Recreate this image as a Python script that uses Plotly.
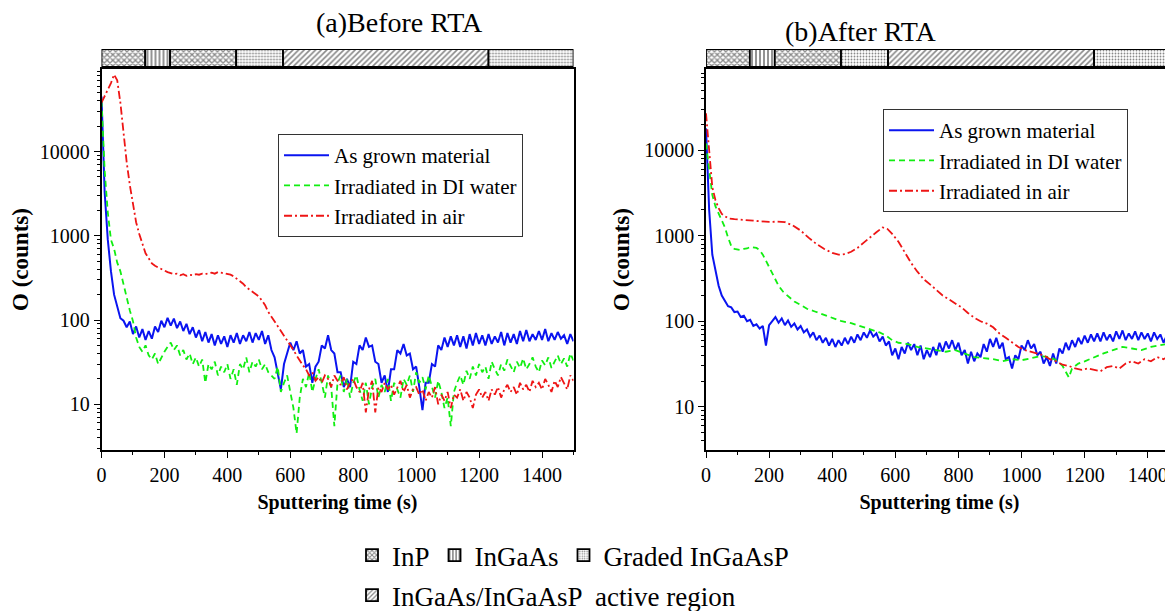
import plotly.graph_objects as go

# sputtering time grids (s)
time_a = list(range(0, 1501, 10))
time_b = list(range(0, 1481, 10))

# (a) Before RTA, O counts
asgrown_a = [45000, 3300, 900, 380, 200, 140, 105, 98, 82, 96,
             68, 84, 62, 78, 58, 74, 60, 84, 72, 98,
             82, 106, 86, 104, 80, 96, 74, 90, 68, 82,
             62, 76, 56, 72, 54, 68, 50, 66, 52, 64,
             48, 66, 54, 70, 52, 66, 56, 72, 54, 70,
             58, 74, 52, 66, 44, 36, 22, 15, 30, 40,
             54, 44, 56, 40, 44, 28, 30, 18, 28, 32,
             50, 46, 66, 44, 40, 24, 24, 16, 20, 16,
             32, 30, 50, 44, 62, 48, 50, 32, 30, 18,
             22, 14, 26, 26, 44, 40, 52, 38, 40, 26,
             28, 16, 8.5, 18, 18, 30, 28, 50, 44, 62,
             48, 64, 50, 66, 48, 64, 46, 68, 50, 70,
             52, 66, 50, 68, 52, 64, 54, 72, 50, 70,
             54, 68, 52, 74, 56, 76, 56, 68, 58, 74,
             58, 78, 56, 70, 58, 72, 60, 66, 52, 68,
             56]

diwater_a = [40000, 6000, 1900, 900, 700, 480, 380, 260, 180, 130,
             97, 62, 48, 42, 50, 38, 34, 40, 30, 36,
             42, 48, 54, 44, 50, 38, 44, 34, 40, 30,
             36, 28, 34, 18, 30, 26, 32, 22, 28, 24,
             30, 20, 26, 17, 30, 26, 36, 24, 32, 28,
             34, 26, 30, 24, 22, 20, 28, 14, 18, 22,
             14, 9, 4.5, 12, 20, 16, 24, 14, 20, 26,
             18, 12, 22, 16, 5.5, 18, 22, 14, 20, 12,
             18, 22, 15, 11, 18, 10, 16, 20, 12, 17,
             14, 20, 11, 18, 15, 12, 20, 17, 22, 14,
             24, 18, 21, 15, 22, 16, 12, 19, 14, 9,
             12, 5.5, 14, 18, 22, 17, 25, 20, 28, 22,
             30, 24, 28, 20, 32, 26, 22, 30, 25, 34,
             28, 24, 32, 27, 35, 26, 30, 36, 28, 24,
             33, 29, 36, 27, 32, 38, 30, 35, 28, 40,
             33]

air_a = [38000, 45000, 55000, 65000, 82000, 70000, 38000, 16000, 7500, 4000,
         2400, 1450, 1050, 780, 620, 540, 470, 440, 420, 400,
         380, 370, 360, 350, 355, 340, 350, 335, 345, 340,
         350, 345, 355, 350, 360, 365, 355, 370, 365, 360,
         350, 345, 330, 310, 290, 270, 245, 230, 215, 200,
         190, 170, 150, 125, 110, 95, 85, 75, 65, 58,
         50, 44, 38, 33, 29, 26, 22, 24, 19, 21,
         18, 22, 20, 16, 22, 19, 17, 21, 15, 18,
         20, 16, 14, 18, 8, 15, 19, 8, 16, 14,
         18, 15, 17, 13, 16, 19, 14, 17, 12, 15,
         16, 13, 15, 11, 14, 12, 16, 10, 13, 11,
         14, 9, 13, 12, 15, 11, 14, 12, 9, 13,
         15, 12, 14, 11, 15, 13, 16, 12, 15, 17,
         14, 16, 13, 18, 15, 17, 14, 19, 16, 18,
         15, 20, 17, 14, 19, 16, 21, 18, 15, 22,
         19]

# (b) After RTA
asgrown_b = [18000, 2000, 600, 380, 260, 200, 175, 150, 145, 128,
             130, 112, 116, 100, 104, 88, 92, 82, 88, 52,
             90, 100, 112, 96, 108, 90, 102, 86, 94, 80,
             88, 74, 80, 66, 74, 60, 68, 56, 64, 52,
             62, 50, 60, 52, 64, 54, 66, 56, 70, 60,
             74, 64, 78, 66, 72, 58, 66, 52, 58, 40,
             48, 36, 50, 42, 56, 46, 54, 40, 52, 36,
             46, 38, 50, 40, 56, 44, 58, 48, 60, 46,
             56, 40, 46, 32, 44, 34, 42, 38, 54, 44,
             62, 50, 64, 48, 56, 36, 38, 28, 40, 36,
             52, 46, 60, 48, 54, 40, 44, 32, 38, 30,
             42, 32, 48, 42, 56, 46, 60, 50, 64, 54,
             68, 56, 70, 58, 72, 58, 74, 60, 70, 58,
             76, 62, 78, 60, 72, 62, 76, 60, 74, 62,
             72, 58, 74, 62, 70, 56, 68, 58, 66]

diwater_b_t = [0, 10, 20, 30, 40, 50, 60, 70, 80, 90, 100, 110, 120, 130, 140,
               150, 160, 170, 180, 190, 200, 215, 230, 245, 260, 280, 300, 320,
               345, 370, 400, 430, 460, 490, 520, 550, 570, 590, 610, 640, 670,
               700, 730, 760, 790, 820, 850, 880, 910, 940, 970, 1000, 1030,
               1060, 1090, 1110, 1130, 1150, 1160, 1180, 1200, 1230, 1260, 1290,
               1320, 1350, 1380, 1410, 1440, 1470, 1480]
diwater_b = [12000, 5800, 3000, 2200, 1800, 1500, 1250, 950, 760, 700, 690, 680,
             700, 710, 740, 730, 720, 680, 600, 510, 430, 330, 260, 220, 195,
             170, 155, 140, 130, 120, 108, 100, 95, 88, 80, 74, 68, 60, 56, 54,
             50, 48, 46, 44, 46, 42, 38, 37, 36, 34, 36, 35, 37, 39, 38, 35,
             30, 22, 28, 32, 34, 38, 42, 46, 50, 48, 46, 50, 52, 55, 54]

air_b_t = [0, 10, 20, 30, 40, 50, 60, 70, 90, 110, 130, 150, 175, 200, 225,
           250, 275, 300, 325, 350, 375, 400, 420, 440, 460, 480, 500, 520,
           540, 560, 575, 590, 610, 630, 650, 670, 690, 710, 730, 750, 770,
           790, 810, 830, 850, 870, 890, 910, 930, 950, 970, 990, 1010, 1030,
           1050, 1070, 1090, 1110, 1130, 1150, 1170, 1190, 1210, 1230, 1250,
           1270, 1290, 1310, 1330, 1350, 1370, 1390, 1410, 1430, 1450, 1470,
           1480]
air_b = [27000, 9200, 3700, 2600, 2100, 1800, 1680, 1600, 1560, 1550, 1520,
         1500, 1470, 1450, 1460, 1440, 1320, 1150, 950, 800, 700, 630, 600,
         610, 650, 720, 830, 960, 1100, 1250, 1200, 1050, 850, 640, 480, 380,
         310, 270, 230, 200, 180, 160, 145, 125, 110, 100, 94, 85, 72, 64, 56,
         50, 46, 44, 42, 40, 36, 34, 31, 30, 28, 27, 28, 27, 26, 29, 30, 28,
         32, 34, 32, 36, 34, 38, 36, 40, 38]

# layer structure bar above each panel
layer_names = ["InP", "InGaAs", "InP", "Graded InGaAsP",
               "InGaAs/InGaAsP  active region", "Graded InGaAsP"]
layer_bounds = [0, 139, 218, 428, 577, 1230, 1500]
layer_pattern = {"InP": ("x", 4, 0.55), "InGaAs": ("|", 4, 0.45),
                 "Graded InGaAsP": (".", 3, 0.3),
                 "InGaAs/InGaAsP  active region": ("/", 4, 0.4)}

serif = "Liberation Serif"
blue, green, red = "#0a14f0", "#11ee11", "#ee1515"

fig = go.Figure()

panels = [
    ("x", "y", "legend", [(time_a, asgrown_a), (time_a, diwater_a), (time_a, air_a)]),
    ("x2", "y2", "legend4", [(time_b, asgrown_b), (diwater_b_t, diwater_b), (air_b_t, air_b)]),
]
names = ["As grown material", "Irradiated in DI water", "Irradiated in air"]
styles = [(blue, "solid", 2.0), (green, "6px,4px", 1.8), (red, "8px,3px,2px,3px", 1.8)]

for xa, ya, leg, series in panels:
    for (t, c), name, (col, dash, w) in zip(series, names, styles):
        fig.add_trace(go.Scatter(x=t, y=c, mode="lines", name=name,
                                 line=dict(color=col, dash=dash, width=w),
                                 xaxis=xa, yaxis=ya, legend=leg))

# bars on x3/y3 (panel a) and x4/y4 (panel b)
seen = set()
for xa, ya in [("x3", "y3"), ("x4", "y4")]:
    for i, name in enumerate(layer_names):
        start, end = layer_bounds[i], layer_bounds[i + 1]
        show = name not in seen
        seen.add(name)
        shape, size, sol = layer_pattern[name]
        fig.add_trace(go.Bar(
            x=[end - start], base=[start], y=[0], orientation="h", width=1,
            name=name, showlegend=show,
            legend="legend3" if "active" in name else "legend2",
            marker=dict(color="white", line=dict(color="black", width=1.8),
                        pattern=dict(shape=shape, fgcolor="#111", bgcolor="white",
                                     size=size, solidity=sol)),
            xaxis=xa, yaxis=ya, hoverinfo="skip"))

# the page body has an 8 px margin, so the figure is shifted by that
W, H = 1165, 603


def px(X):
    return (X - 8) / W


def py(Y):
    return 1 - (Y - 8) / H


dom_a = [px(101.5), px(573.5)]
dom_b = [px(706), 1.0]
dom_y = [py(450), py(69)]
dom_bar = [py(67), py(49)]

axfont = dict(family=serif, size=20, color="black")
titlefont = dict(family=serif, size=20, color="black")

minor_logs = [m * 10 ** k for k in range(0, 5) for m in range(2, 10)]


def xax(dom, rng, anchor):
    return dict(domain=dom, range=rng, anchor=anchor, showgrid=False, zeroline=False,
                automargin=False,
                showline=True, linecolor="black", linewidth=1.5, mirror=True,
                ticks="outside", ticklen=6, tickwidth=1.2, tickcolor="black",
                tick0=0, dtick=200, tickfont=axfont,
                minor=dict(ticks="outside", ticklen=3, dtick=100, tickcolor="black"),
                title=dict(text="<b>Sputtering time (s)</b>", font=titlefont, standoff=10))


def yax(rng, anchor, mirror):
    return dict(domain=dom_y, type="log", range=rng, anchor=anchor, showgrid=False,
                automargin=False,
                showline=True, linecolor="black", linewidth=1.5, mirror=mirror,
                ticks="outside", ticklen=6, tickwidth=1.2, tickcolor="black",
                tickvals=[10, 100, 1000, 10000], ticktext=["10", "100", "1000", "10000"],
                tickfont=axfont,
                minor=dict(ticks="outside", ticklen=3, tickcolor="black",
                           tickvals=minor_logs, showgrid=False),
                title=dict(text="<b>O (counts)</b>", font=dict(titlefont, size=23), standoff=8))


def barx(dom, rng, anchor):
    return dict(domain=dom, range=rng, anchor=anchor, visible=False, automargin=False)


def bary(anchor):
    return dict(domain=dom_bar, range=[-0.5, 0.5], anchor=anchor, visible=False,
                automargin=False)


legend_box = dict(font=dict(family=serif, size=21, color="black"), bgcolor="white",
                  bordercolor="#333", borderwidth=1, xanchor="left", yanchor="top",
                  tracegroupgap=0, itemwidth=45)
legend_key = dict(font=dict(family=serif, size=27, color="black"), orientation="h",
                  xanchor="left", yanchor="top", bgcolor="rgba(0,0,0,0)", itemwidth=30)

fig.update_layout(
    width=W, height=H, margin=dict(l=0, r=0, t=0, b=0, autoexpand=False),
    paper_bgcolor="white", plot_bgcolor="white", barmode="overlay",
    xaxis=xax(dom_a, [0, 1500], "y"),
    yaxis=yax([0.457, 4.98], "x", True),
    xaxis2=xax(dom_b, [0, 1480], "y2"),
    yaxis2=yax([0.494, 4.95], "x2", False),
    xaxis3=barx(dom_a, [0, 1500], "y3"),
    yaxis3=bary("x3"),
    xaxis4=barx(dom_b, [0, 1480], "y4"),
    yaxis4=bary("x4"),
    legend=dict(legend_box, x=px(278), y=py(134)),
    legend4=dict(legend_box, x=px(883), y=py(109)),
    legend2=dict(legend_key, x=px(352), y=py(531)),
    legend3=dict(legend_key, x=px(352), y=py(571)),
    annotations=[
        dict(text="(a)Before RTA", x=px(314), y=py(22), xref="paper", yref="paper",
             yanchor="middle", showarrow=False,
             font=dict(family=serif, size=28, color="black")),
        dict(text="(b)After RTA", x=px(939), y=py(31), xref="paper", yref="paper",
             yanchor="middle", showarrow=False,
             font=dict(family=serif, size=28, color="black")),
    ],
)

fig.write_html("out.html")
